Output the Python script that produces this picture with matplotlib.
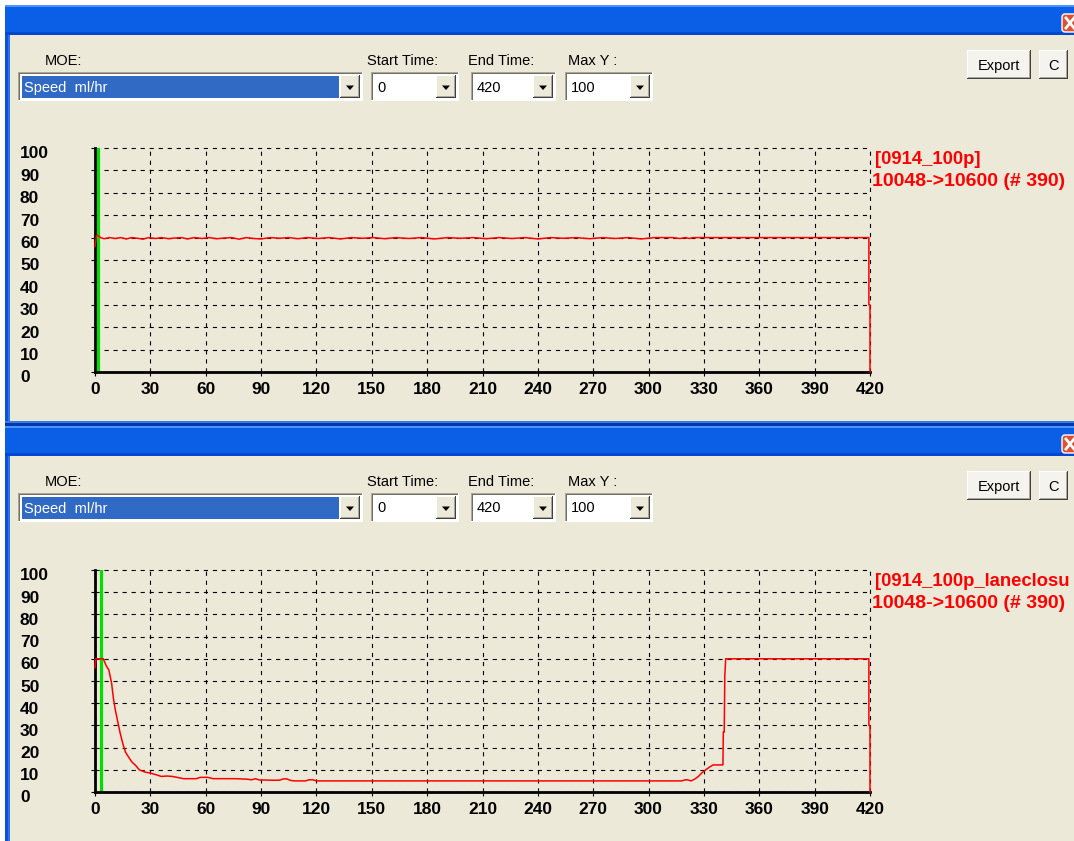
import matplotlib
matplotlib.use('Agg')
import matplotlib.pyplot as plt
from matplotlib.patches import Rectangle, Polygon, FancyBboxPatch

plt.rcParams['font.family'] = ['Liberation Sans', 'DejaVu Sans']
plt.rcParams['lines.scale_dashes'] = False

W, H = 1074, 841

# run 0914_100p, speed (mi/hr) by minute
top_time = [0, 0.8, 1.5, 3, 5, 8, 11, 14, 17, 20, 23, 26, 29, 33, 36, 40, 43, 47, 50, 54,
            58, 62, 66, 70, 74, 78, 82, 86, 90, 95, 100, 105, 110, 115, 121, 127, 133, 139,
            145, 151, 157, 163, 170, 177, 184, 191, 198, 205, 212, 219, 226, 233, 240, 247,
            254, 261, 268, 275, 282, 289, 296, 303, 308, 313, 317, 320, 322, 324, 326,
            419.4, 419.4, 420, 420]
top_speed = [56, 61, 61, 60, 59.5, 60, 59.6, 60, 59.4, 60, 59.7, 59.3, 60, 59.6, 60, 59.5,
             59.8, 60, 59.4, 60, 59.6, 60, 59.5, 59.8, 60, 59.3, 60, 59.6, 59.4, 60, 59.7,
             60, 59.5, 60, 59.6, 60, 59.4, 60, 59.7, 60, 59.5, 60, 59.6, 60, 59.4, 60, 59.7,
             60, 59.5, 60, 59.6, 60, 59.4, 60, 59.7, 60, 59.5, 60, 59.6, 60, 59.4, 60, 60,
             60, 59.6, 60, 59.6, 60, 60, 60, 30, 30, 0]

# run 0914_100p_laneclosure
bot_time = [0, 0.5, 4.5, 6, 7.5, 9, 10, 11, 12, 13.5, 15, 16.5, 18, 20, 22, 24, 27, 30, 33,
            36, 39, 42, 45, 48, 52, 55, 57, 61, 64, 70, 76, 82, 85, 87, 89, 92, 96, 100, 102,
            104, 106, 108, 114, 116, 118, 120, 150, 200, 250, 300, 318, 320, 321, 323, 325,
            327, 329, 331, 333, 335, 340.3, 340.5, 341, 341.3, 341.8, 419.4, 419.4, 420, 420]
bot_speed = [56, 60, 60, 57, 55, 49, 42, 37, 33, 27, 22, 18, 16, 13.5, 12, 10, 9, 8.5, 7.8,
             7, 7.2, 7, 6.5, 6, 6, 6, 6.6, 6.6, 6, 6, 6, 5.8, 5.5, 6, 5.4, 5.4, 5.3, 5.3, 5.9,
             5.9, 5.2, 5, 5, 5.5, 5.5, 5, 5, 5, 5, 5, 5, 5.5, 5.5, 5, 5.8, 7, 8.7, 10, 11.2,
             12.2, 12.2, 27, 27, 52, 60, 60, 30, 30, 0]

x_ticks = [0, 30, 60, 90, 120, 150, 180, 210, 240, 270, 300, 330, 360, 390, 420]
y_ticks = [0, 10, 20, 30, 40, 50, 60, 70, 80, 90, 100]
top_cursor = 1.5
bot_cursor = 3.3
top_run = '[0914_100p]'
bot_run = '[0914_100p_laneclosu'   # the window cuts the name here
link_label = '10048->10600 (# 390)'

BEIGE = '#ECE9D8'
UI_FONT = 10.5


def rect(ax, x0, y0, x1, y1, fc, z=1):
    ax.add_patch(Rectangle((x0, y0), x1 - x0, y1 - y0, facecolor=fc,
                           edgecolor='none', linewidth=0, zorder=z))


def arrow_button(ax, x0, y0, x1, y1):
    rect(ax, x0, y0, x1, y1, '#404040', 3)
    rect(ax, x0, y0, x1 - 1, y1 - 1, 'white', 3)
    rect(ax, x0 + 1, y0 + 1, x1 - 1, y1 - 1, '#ACA899', 3)
    rect(ax, x0 + 1, y0 + 1, x1 - 2, y1 - 2, BEIGE, 3)
    cx, cy = (x0 + x1) / 2, (y0 + y1) / 2 + 1
    ax.add_patch(Polygon([(cx - 4, cy - 2), (cx + 4, cy - 2), (cx, cy + 2.5)],
                         closed=True, facecolor='black', edgecolor='none', zorder=4))


def combo(ax, x0, x1, y0, y1, text, selected=False):
    rect(ax, x0, y0, x1, y1, 'white', 2)
    rect(ax, x0, y0, x1 - 1, y1 - 1, '#ACA899', 2)
    rect(ax, x0 + 1, y0 + 1, x1 - 1, y1 - 1, '#716F64', 2)
    rect(ax, x0 + 2, y0 + 2, x1 - 1, y1 - 1, 'white', 2)
    bx1 = x1 - 3
    bx0 = bx1 - 20
    if selected:
        rect(ax, x0 + 4, y0 + 4, bx0 - 1, y1 - 3, '#316AC5', 2)
    arrow_button(ax, bx0, y0 + 3, bx1, y1 - 3)
    ax.text(x0 + 6, (y0 + y1) / 2 + 1, text, fontsize=UI_FONT, va='center', ha='left',
            color='white' if selected else 'black', zorder=5)


def button(ax, x0, x1, y0, y1, text):
    rect(ax, x0, y0, x1, y1, '#404040', 2)
    rect(ax, x0, y0, x1 - 1, y1 - 1, 'white', 2)
    rect(ax, x0 + 1, y0 + 1, x1 - 1, y1 - 1, '#ACA899', 2)
    rect(ax, x0 + 1, y0 + 1, x1 - 2, y1 - 2, '#F4F3EE', 2)
    ax.text((x0 + x1) / 2, (y0 + y1) / 2 + 1, text, fontsize=UI_FONT, va='center',
            ha='center', zorder=5)


def window(ax, dy, bottom):
    # title bar
    rect(ax, 5, dy + 5, W, dy + 35, '#0A5FE6')
    rect(ax, 5, dy + 5, W, dy + 7, '#4A95FF')
    rect(ax, 5, dy + 32, W, dy + 35, '#0048CF')
    # left frame
    rect(ax, 5, dy + 35, 10, bottom, '#0A52DA')
    rect(ax, 8, dy + 35, 10, bottom, '#2C72EE')
    # close button (cut by the right edge)
    ax.add_patch(FancyBboxPatch((1062, dy + 14), 20, 18, boxstyle='round,pad=0,rounding_size=3',
                                facecolor='#E0502E', edgecolor='white', linewidth=1, zorder=3))
    ax.plot([1066, 1074], [dy + 18, dy + 28], color='white', lw=2, zorder=4)
    ax.plot([1066, 1074], [dy + 28, dy + 18], color='white', lw=2, zorder=4)
    # controls
    ax.text(45, dy + 61, 'MOE:', fontsize=UI_FONT, va='center')
    ax.text(367, dy + 61, 'Start Time:', fontsize=UI_FONT, va='center')
    ax.text(468, dy + 61, 'End Time:', fontsize=UI_FONT, va='center')
    ax.text(568, dy + 61, 'Max Y :', fontsize=UI_FONT, va='center')
    combo(ax, 18, 363, dy + 72, dy + 101, 'Speed  ml/hr', selected=True)
    combo(ax, 371, 459, dy + 72, dy + 101, '0')
    combo(ax, 471, 556, dy + 72, dy + 101, '420')
    combo(ax, 565, 653, dy + 72, dy + 101, '100')
    button(ax, 967, 1031, dy + 50, dy + 79, 'Export')
    button(ax, 1039, 1068, dy + 50, dy + 79, 'C')


def chart(fig, top_px, bot_px, t, v, cursor, run):
    ax = fig.add_axes([95 / W, 1 - bot_px / H, 775 / W, (bot_px - top_px) / H])
    ax.patch.set_alpha(0)
    ax.set_xlim(0, 420)
    ax.set_ylim(0, 100)
    for s in ['top', 'right']:
        ax.spines[s].set_visible(False)
    for s in ['left', 'bottom']:
        ax.spines[s].set_linewidth(2)
        ax.spines[s].set_zorder(4)
    ax.set_xticks(x_ticks)
    ax.set_xticklabels([str(x) for x in x_ticks], fontsize=12.5, fontweight='bold')
    ax.set_yticks(y_ticks)
    ax.set_yticklabels([])
    ax.tick_params(length=3, width=0.8, color='black', pad=4.2)
    ax.grid(True, color='black', linestyle=(0, (3, 3.5)), linewidth=0.8)
    for gl in ax.get_xgridlines() + ax.get_ygridlines():
        gl.set_clip_on(False)
    for y in y_ticks:
        ax.annotate(str(y), xy=(0, y), xycoords=('axes fraction', 'data'),
                    xytext=(-75, -6), textcoords='offset pixels', ha='left', va='center',
                    fontsize=12.5, fontweight='bold', annotation_clip=False)
    ax.axvline(cursor, color='#00E000', lw=2.3, zorder=3)
    ax.plot(t, v, color='#FF0000', lw=1.1, clip_on=False, zorder=5)
    ax.annotate(run, xy=(1, 1), xycoords='axes fraction', xytext=(5, -12),
                textcoords='offset pixels', ha='left', va='center', color='#FF0000',
                fontsize=13.3, fontweight='bold', annotation_clip=False)
    ax.annotate(link_label, xy=(1, 1), xycoords='axes fraction', xytext=(2, -33),
                textcoords='offset pixels', ha='left', va='center', color='#FF0000',
                fontsize=14, fontweight='bold', annotation_clip=False)
    return ax


fig = plt.figure(figsize=(W / 100, H / 100), dpi=100)
fig.patch.set_facecolor(BEIGE)

ui = fig.add_axes([0, 0, 1, 1])
ui.set_xlim(0, W)
ui.set_ylim(H, 0)
ui.axis('off')
ui.set_zorder(0)

rect(ui, 0, 0, W, 5, 'white')
rect(ui, 0, 0, 5, H, 'white')
window(ui, 0, 421)
# bottom frame of the first window
rect(ui, 5, 421, W, 423, '#3A7BE0')
rect(ui, 5, 423, W, 426, '#0038B0')
window(ui, 421, H)

chart(fig, 148, 372, top_time, top_speed, top_cursor, top_run)
chart(fig, 570, 792, bot_time, bot_speed, bot_cursor, bot_run)

fig.savefig('out.png', dpi=100, facecolor=fig.get_facecolor())
